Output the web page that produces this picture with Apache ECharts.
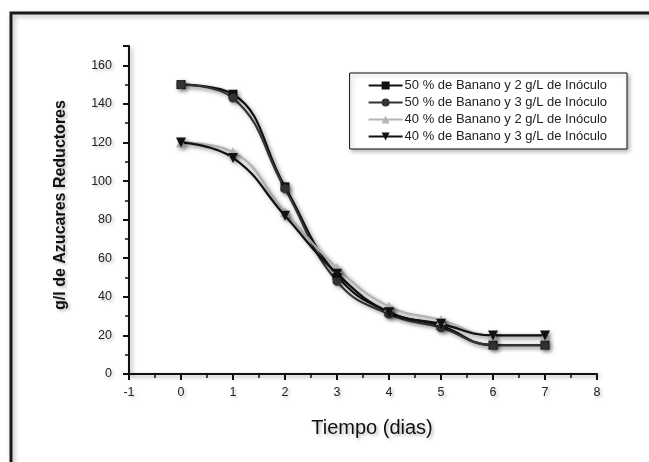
<!DOCTYPE html>
<html><head><meta charset="utf-8">
<script src="https://cdn.jsdelivr.net/npm/echarts@6/dist/echarts.min.js"></script>
<style>html,body{margin:0;padding:0;background:#fff}#c{width:649px;height:462px}</style>
</head><body><div id="c"></div>
<script>
const days = [0, 1, 2, 3, 4, 5, 6, 7];
const seriesNames = [
  '50 % de Banano y 2 g/L de Inóculo',
  '50 % de Banano y 3 g/L de Inóculo',
  '40 % de Banano y 2 g/L de Inóculo',
  '40 % de Banano y 3 g/L de Inóculo'
];
const b50i2 = [150, 145, 97, 51, 32, 25, 15, 15];
const b50i3 = [150, 143, 96, 48, 31, 24, 15, 15];
const b40i2 = [120, 115, 84, 55, 35, 28, 20, 20];
const b40i3 = [120, 112, 82, 52, 32, 26, 20, 20];
const yTicks = [0, 20, 40, 60, 80, 100, 120, 140, 160];

const font = 'Liberation Sans, Arial, sans-serif';
const shadow = {shadowColor: 'rgba(0,0,0,0.35)', shadowBlur: 4, shadowOffsetX: 2, shadowOffsetY: 2};
const txtShadow = {textShadowColor: 'rgba(0,0,0,0.25)', textShadowBlur: 3, textShadowOffsetX: 2, textShadowOffsetY: 2};

function mk(name, vals, color, symbol, size) {
  return {
    name: name, type: 'line', smooth: 0.45,
    data: days.map((d, i) => [d, vals[i]]),
    symbol: symbol, symbolSize: size,
    lineStyle: Object.assign({color: color, width: 2.2}, shadow),
    itemStyle: Object.assign({color: color}, shadow),
    emphasis: {disabled: true}
  };
}

const chart = echarts.init(document.getElementById('c'), null, {renderer: 'canvas'});
chart.setOption({
  animation: false,
  backgroundColor: '#fff',
  graphic: [{
    type: 'rect', shape: {x: 11, y: 13, width: 700, height: 520},
    style: {fill: 'none', stroke: '#1a1a1a', lineWidth: 3, shadowColor: 'rgba(0,0,0,0.3)', shadowBlur: 5, shadowOffsetX: 2, shadowOffsetY: 2}
  }],
  grid: {left: 129, right: 52, top: 46, bottom: 88},
  legend: {
    orient: 'vertical', right: 22, top: 73,
    itemWidth: 34, itemHeight: 10, itemGap: 4,
    padding: [6, 20, 6, 18],
    borderColor: '#111', borderWidth: 1,
    backgroundColor: '#fff',
    shadowColor: 'rgba(0,0,0,0.3)', shadowBlur: 4, shadowOffsetX: 2, shadowOffsetY: 2,
    textStyle: {fontFamily: font, fontSize: 13, color: '#222', padding: [0, 0, 0, -3], lineHeight: 13},
    data: seriesNames
  },
  xAxis: {
    type: 'value', min: -1, max: 8, interval: 1,
    name: 'Tiempo (dias)', nameLocation: 'middle', nameGap: 44,
    nameTextStyle: Object.assign({fontFamily: font, fontSize: 20, color: '#111', padding: [0, 0, 0, 18]}, txtShadow),
    axisLine: {onZero: false, lineStyle: Object.assign({color: '#111', width: 2}, shadow)},
    axisTick: {show: true, inside: false, length: 6, lineStyle: {color: '#111', width: 2}},
    minorTick: {show: true, splitNumber: 2, length: 4, lineStyle: {color: '#111', width: 1.5}},
    axisLabel: Object.assign({fontFamily: font, fontSize: 12.5, color: '#222', margin: 12}, txtShadow),
    splitLine: {show: false}
  },
  yAxis: {
    type: 'value', min: 0, max: 170, interval: 20,
    name: 'g/l de Azucares Reductores', nameLocation: 'middle', nameGap: 60, nameRotate: 90,
    nameTextStyle: Object.assign({fontFamily: font, fontSize: 16, fontWeight: 'bold', color: '#111', padding: [0, 0, 0, 10]}, txtShadow),
    axisLine: {show: true, onZero: false, lineStyle: Object.assign({color: '#111', width: 2}, shadow)},
    axisTick: {show: true, inside: false, length: 6, lineStyle: {color: '#111', width: 2}},
    minorTick: {show: true, splitNumber: 2, length: 4, lineStyle: {color: '#111', width: 1.5}},
    axisLabel: Object.assign({fontFamily: font, fontSize: 12.5, color: '#222', margin: 17, showMaxLabel: false,
      formatter: v => yTicks.indexOf(v) >= 0 ? String(v) : ''}, txtShadow),
    splitLine: {show: false}
  },
  series: [
    mk(seriesNames[0], b50i2, '#111', 'rect', 9),
    mk(seriesNames[1], b50i3, '#333', 'circle', 9),
    mk(seriesNames[2], b40i2, '#b4b4b4', 'triangle', 10),
    mk(seriesNames[3], b40i3, '#111', 'path://M0,0 L10,0 L5,9 Z', 10)
  ]
});
</script></body></html>
